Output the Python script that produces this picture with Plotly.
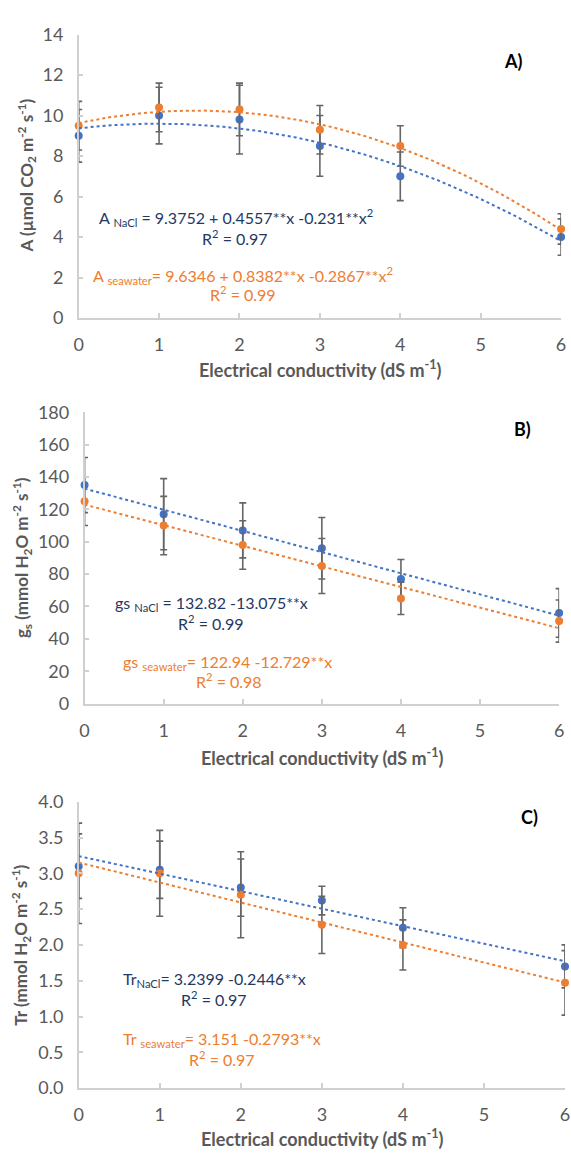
import numpy as np
import plotly.graph_objects as go

# Electrical conductivity levels (dS m-1)
ec = [0, 1, 2, 3, 4, 6]

# A) Net photosynthesis (µmol CO2 m-2 s-1)
a_nacl = [9.0, 10.0, 9.8, 8.5, 7.0, 4.0]
a_nacl_err = [1.3, 1.4, 1.7, 1.5, 1.2, 0.9]
a_sea = [9.5, 10.4, 10.3, 9.3, 8.5, 4.4]
a_sea_err = [1.2, 1.2, 1.3, 1.2, 1.0, 0.75]
a_nacl_fit = [9.3752, 0.4557, -0.231]
a_sea_fit = [9.6346, 0.8382, -0.2867]

# B) Stomatal conductance (mmol H2O m-2 s-1)
gs_nacl = [135, 117, 107, 96, 77, 56]
gs_nacl_err = [17, 22, 17, 19, 12, 15]
gs_sea = [125, 110, 98, 85, 65, 51]
gs_sea_err = [15, 18, 15, 17, 10, 13]
gs_nacl_fit = [132.82, -13.075]
gs_sea_fit = [122.94, -12.729]

# C) Transpiration (mmol H2O m-2 s-1)
tr_nacl = [3.1, 3.05, 2.8, 2.62, 2.24, 1.7]
tr_nacl_err = [0.45, 0.4, 0.4, 0.2, 0.28, 0.3]
tr_sea = [3.0, 3.0, 2.7, 2.28, 2.0, 1.47]
tr_sea_err = [0.7, 0.6, 0.6, 0.4, 0.35, 0.45]
tr_nacl_fit = [3.2399, -0.2446]
tr_sea_fit = [3.151, -0.2793]

x_ticks = [0, 1, 2, 3, 4, 5, 6]

BLUE = "#4472c4"
ORANGE = "#ed7d31"
NAVY = "#1f3864"
GREY_TXT = "#595959"
AXIS = "#d0d0d0"
ERR = "#666666"
FONT = "Lato"

W, H = 571, 1157


def poly(coefs, x):
    return sum(c * x ** i for i, c in enumerate(coefs))


fig = go.Figure()

panels = [
    # (suffix, nacl, nacl_err, sea, sea_err, nacl_fit, sea_fit)
    ("", a_nacl, a_nacl_err, a_sea, a_sea_err, a_nacl_fit, a_sea_fit),
    ("2", gs_nacl, gs_nacl_err, gs_sea, gs_sea_err, gs_nacl_fit, gs_sea_fit),
    ("3", tr_nacl, tr_nacl_err, tr_sea, tr_sea_err, tr_nacl_fit, tr_sea_fit),
]

xs = np.linspace(0, 6, 121)
for sfx, yn, en, ysw, esw, fn, fsw in panels:
    xa, ya = "x" + sfx, "y" + sfx
    for y, e, col in ((yn, en, BLUE), (ysw, esw, ORANGE)):
        fig.add_trace(go.Scatter(
            x=ec, y=y, mode="markers", xaxis=xa, yaxis=ya,
            marker=dict(color=col, size=8),
            error_y=dict(type="data", array=e, visible=True,
                         color=ERR, thickness=1.6, width=3.5),
            cliponaxis=False, showlegend=False, hoverinfo="skip"))
    for coefs, col in ((fn, BLUE), (fsw, ORANGE)):
        fig.add_trace(go.Scatter(
            x=xs, y=poly(coefs, xs), mode="lines", xaxis=xa, yaxis=ya,
            line=dict(color=col, width=2, dash="dot"),
            showlegend=False, hoverinfo="skip"))


def xdom(left, right):
    return [left / W, right / W]


def ydom(top, bottom):
    return [1 - bottom / H, 1 - top / H]


common_x = dict(range=[0, 6], tickvals=x_ticks, showgrid=False, zeroline=False,
                showline=True, linecolor=AXIS, linewidth=1.5,
                ticks="inside", ticklen=5, tickcolor=AXIS, tickwidth=1.5,
                tickfont=dict(family=FONT, size=18, color=GREY_TXT),
                ticklabelstandoff=10)
common_y = dict(showgrid=False, zeroline=False, showline=True, linecolor=AXIS,
                linewidth=1.5, ticks="inside", ticklen=5, tickcolor=AXIS,
                tickwidth=1.5,
                tickfont=dict(family=FONT, size=18, color=GREY_TXT),
                ticklabelstandoff=10)

fig.update_layout(
    width=W, height=H, margin=dict(l=0, r=0, t=0, b=0),
    paper_bgcolor="white", plot_bgcolor="white",
    xaxis=dict(common_x, domain=xdom(75, 566), anchor="y"),
    yaxis=dict(common_y, domain=ydom(23, 312), range=[0, 14], dtick=2,
               anchor="x"),
    xaxis2=dict(common_x, domain=xdom(81, 564), anchor="y2"),
    yaxis2=dict(common_y, domain=ydom(408, 705), range=[0, 180], dtick=20,
                anchor="x2"),
    xaxis3=dict(common_x, domain=xdom(75, 570), anchor="y3"),
    yaxis3=dict(common_y, domain=ydom(805, 1097), range=[0, 4], dtick=0.5,
                tickformat=".1f", anchor="x3"),
)

ann = []


def paper_text(text, px, py, size=18, color=GREY_TXT, bold=True, angle=0):
    t = f"<b>{text}</b>" if bold else text
    ann.append(dict(text=t, x=px / W, y=1 - py / H, xref="paper", yref="paper",
                    showarrow=False, xanchor="center", yanchor="middle",
                    textangle=angle,
                    font=dict(family=FONT, size=size, color=color)))


def data_text(text, x, y, sfx, color, size=16, bold=False):
    t = f"<b>{text}</b>" if bold else text
    ann.append(dict(text=t, x=x, y=y, xref="x" + sfx, yref="y" + sfx,
                    showarrow=False, xanchor="center", yanchor="middle",
                    font=dict(family=FONT, size=size, color=color)))


# x-axis titles
xt = "Electrical conductivity (dS m<sup>-1</sup>)"
paper_text(xt, 321, 364)
paper_text(xt, 323, 759)
paper_text(xt, 323, 1148)

# y-axis titles
paper_text("A (µmol CO<sub>2</sub> m<sup>-2</sup> s<sup>-1</sup>)", 22, 167, size=17, angle=-90)
paper_text("g<sub>s</sub> (mmol H<sub>2</sub>O m<sup>-2</sup> s<sup>-1</sup>)", 18, 556, size=17, angle=-90)
paper_text("Tr (mmol H<sub>2</sub>O m<sup>-2</sup> s<sup>-1</sup>)", 16, 951, size=17, angle=-90)

# panel letters
data_text("A)", 5.41, 12.67, "", "black", size=18, bold=True)
data_text("B)", 5.54, 169.9, "2", "black", size=18, bold=True)
data_text("C)", 5.56, 3.78, "3", "black", size=18, bold=True)

# fitted equations
data_text("A <sub>NaCl</sub> = 9.3752 + 0.4557**x -0.231**x<sup>2</sup>", 1.955, 4.97, "", NAVY)
data_text("R<sup>2</sup> = 0.97", 1.94, 3.96, "", NAVY)
data_text("A <sub>seawater</sub>= 9.6346 + 0.8382**x -0.2867**x<sup>2</sup>", 2.04, 2.12, "", ORANGE)
data_text("R<sup>2</sup> = 0.99", 2.04, 1.20, "", ORANGE)

data_text("gs <sub>NaCl</sub> = 132.82 -13.075**x", 1.60, 61.9, "2", NAVY)
data_text("R<sup>2</sup> = 0.99", 1.60, 49.8, "2", NAVY)
data_text("gs <sub>seawater</sub>= 122.94 -12.729**x", 1.81, 25.5, "2", ORANGE)
data_text("R<sup>2</sup> = 0.98", 1.82, 14.0, "2", ORANGE)

data_text("Tr<sub>NaCl</sub>= 3.2399 -0.2446**x", 1.67, 1.52, "3", NAVY)
data_text("R<sup>2</sup> = 0.97", 1.67, 1.25, "3", NAVY)
data_text("Tr <sub>seawater</sub>= 3.151 -0.2793**x", 1.77, 0.685, "3", ORANGE)
data_text("R<sup>2</sup> = 0.97", 1.77, 0.41, "3", ORANGE)

fig.update_layout(annotations=ann)

fig.write_html("out.html")
